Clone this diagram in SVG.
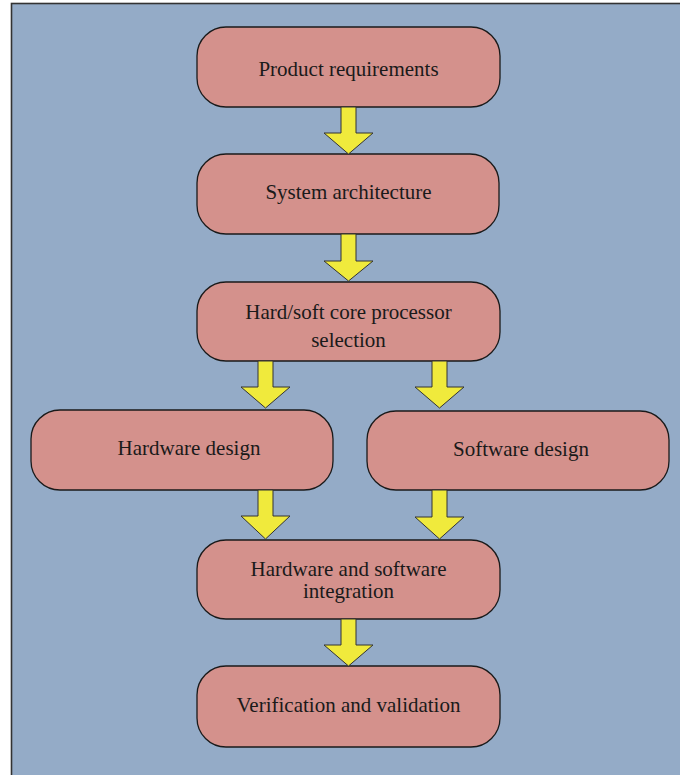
<svg xmlns="http://www.w3.org/2000/svg" width="680" height="775" viewBox="0 0 680 775">
<style>
.bg{fill:#94abc7;stroke:#333;stroke-width:1.6}
.box{fill:#d4918c;stroke:#1a1a1a;stroke-width:1.3}
.lbl{font-family:"Liberation Serif","Times New Roman",serif;font-size:21px;fill:#1a1a1a;text-anchor:middle}
.arr{fill:#f0ea3c;stroke:#333;stroke-width:1;stroke-linejoin:miter}
</style>
<rect class="bg" x="11.5" y="3.5" width="690" height="790"/>
<g id="nodes">
<g id="n1"><rect class="box" x="197" y="27" width="303" height="80" rx="29"/><text class="lbl" x="348.5" y="76">Product requirements</text></g>
<g id="n2"><rect class="box" x="197" y="154" width="302" height="80" rx="29"/><text class="lbl" x="348.5" y="199">System architecture</text></g>
<g id="n3"><rect class="box" x="197" y="282" width="303" height="79" rx="29"/><text class="lbl" x="348.5" y="319">Hard/soft core processor</text><text class="lbl" x="348.5" y="347">selection</text></g>
<g id="n4"><rect class="box" x="31" y="410" width="302" height="80" rx="29"/><text class="lbl" x="189" y="455">Hardware design</text></g>
<g id="n5"><rect class="box" x="367" y="411" width="302" height="79" rx="29"/><text class="lbl" x="521" y="456">Software design</text></g>
<g id="n6"><rect class="box" x="197" y="540" width="303" height="79" rx="29"/><text class="lbl" x="348.5" y="576">Hardware and software</text><text class="lbl" x="348.5" y="598">integration</text></g>
<g id="n7"><rect class="box" x="197" y="666" width="303" height="81" rx="29"/><text class="lbl" x="348.5" y="712">Verification and validation</text></g>
</g>
<g id="connectors">
<polygon class="arr" points="341,107 356,107 356,133 373,133 348.5,154 324,133 341,133"/>
<polygon class="arr" points="341,234 356,234 356,261 373,261 348.5,281 324,261 341,261"/>
<polygon class="arr" points="258,361 273,361 273,387 290,387 265.5,408 241,387 258,387"/>
<polygon class="arr" points="432,361 447,361 447,387 464,387 439.5,408 415,387 432,387"/>
<polygon class="arr" points="258,490 273,490 273,516 290,516 265.5,539 241,516 258,516"/>
<polygon class="arr" points="432,490 447,490 447,517 464,517 439.5,539 415,517 432,517"/>
<polygon class="arr" points="341,619 356,619 356,645 373,645 348.5,666 324,645 341,645"/>
</g>
</svg>
